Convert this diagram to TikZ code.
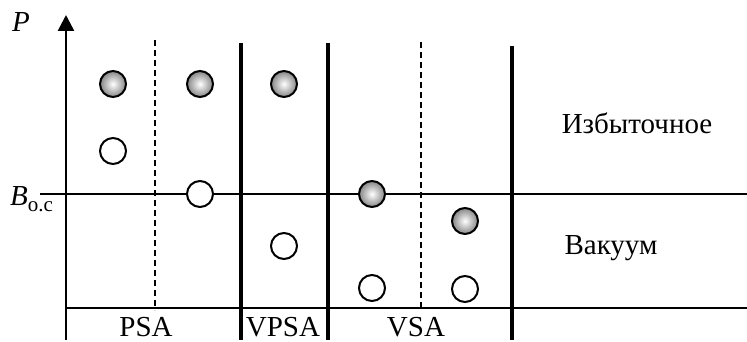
\documentclass[tikz,border=0pt]{standalone}
\usepackage{fontspec}
\setmainfont{Liberation Serif}
\usetikzlibrary{arrows.meta}
\begin{document}
\begin{tikzpicture}[x=1pt,y=-1pt,
  thinline/.style={line width=1.8pt},
  thickline/.style={line width=3.4pt},
  dashline/.style={line width=1.6pt,dash pattern=on 6pt off 4pt},
  ballnode/.style={circle,draw,line width=2pt,minimum size=26pt,inner sep=0pt,
    shading=radial,inner color=white,outer color=gray!95},
  emptynode/.style={circle,draw,line width=2pt,minimum size=26pt,inner sep=0pt,fill=white},
  lbl/.style={font=\fontsize{29}{31}\selectfont,inner sep=0pt}]
\useasboundingbox (0,0) rectangle (747,342);
% coordinates
\coordinate (axb) at (66,340);
\coordinate (axt) at (66,15);
\coordinate (bl) at (40,194);
\coordinate (br) at (747,194);
\coordinate (botl) at (66,308);
\coordinate (botr) at (747,308);
\coordinate (d1t) at (155,40);  \coordinate (d1b) at (155,310);
\coordinate (t1t) at (241,43);  \coordinate (t1b) at (241,340);
\coordinate (t2t) at (328,43);  \coordinate (t2b) at (328,340);
\coordinate (d2t) at (421,42);  \coordinate (d2b) at (421,310);
\coordinate (t3t) at (512,46);  \coordinate (t3b) at (512,340);
% lines
\draw[thinline] (bl) -- (br);
\draw[thinline] (botl) -- (botr);
\draw[dashline] (d1t) -- (d1b);
\draw[dashline] (d2t) -- (d2b);
\draw[thickline] (t1t) -- (t1b);
\draw[thickline] (t2t) -- (t2b);
\draw[thickline] (t3t) -- (t3b);
\draw[line width=2.6pt,-{Triangle[width=16pt,length=16pt]}] (axb) -- (axt);
% circles
\node[ballnode] (g1) at (113,84) {};
\node[ballnode] (g2) at (200,84) {};
\node[ballnode] (g3) at (284,84) {};
\node[ballnode] (g4) at (372,194) {};
\node[ballnode] (g5) at (465,221) {};
\node[emptynode] (w1) at (113,151) {};
\node[emptynode] (w2) at (200,194) {};
\node[emptynode] (w3) at (284,246) {};
\node[emptynode] (w4) at (372,288) {};
\node[emptynode] (w5) at (465,289) {};
% labels
\node[lbl,anchor=base west] (p) at (12,32) {\itshape P};
\node[lbl,anchor=base west] (b) at (10,205) {\itshape B\/\raisebox{-6pt}{\upshape\fontsize{21}{21}\selectfont o.c}};
\node[lbl,anchor=base] (ex) at (637,134) {Избыточное};
\node[lbl,anchor=base] (vac) at (611,254) {Вакуум};
\node[lbl,anchor=base] (psa) at (146,336) {PSA};
\node[lbl,anchor=base] (vpsa) at (283,336) {VPSA};
\node[lbl,anchor=base] (vsa) at (416,336) {VSA};
\end{tikzpicture}
\end{document}
